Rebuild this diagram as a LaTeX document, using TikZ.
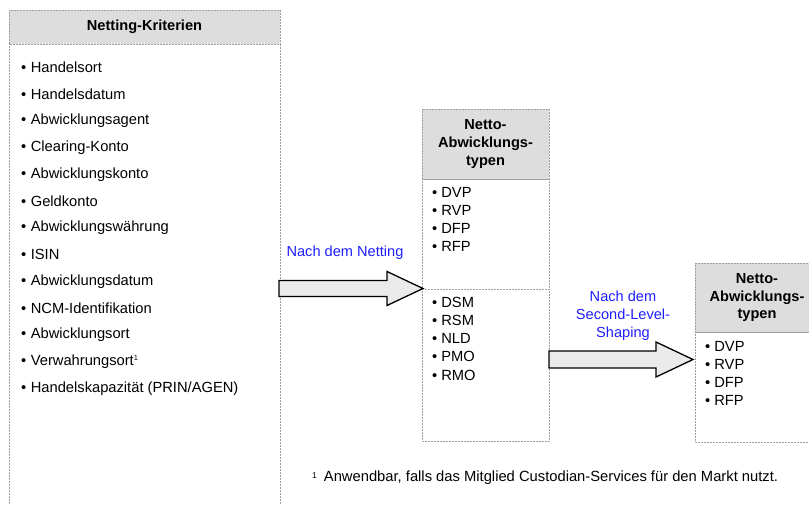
\documentclass[tikz,border=0pt]{standalone}
\usepackage{fontspec}
\setmainfont{Liberation Sans}
\definecolor{hdrgray}{RGB}{221,221,221}
\definecolor{edgegray}{RGB}{160,160,160}
\definecolor{arrowfill}{RGB}{234,234,234}
\definecolor{labelblue}{RGB}{30,30,255}
\tikzset{
  panel/.style={draw=edgegray, densely dotted, line width=0.5pt, fill=white},
  panelhead/.style={draw=edgegray, densely dotted, line width=0.5pt, fill=hdrgray},
  headtext/.style={font=\fontsize{14.6}{17.6}\selectfont\bfseries, align=center, inner sep=0pt},
  itemtext/.style={font=\fontsize{14.7}{16}\selectfont, anchor=west, inner sep=0pt},
  flowlabel/.style={font=\fontsize{14.6}{18}\selectfont, text=labelblue, align=center, inner sep=0pt},
  blockarrow/.style={draw=black, line width=1.3pt, fill=arrowfill, line join=miter},
}
\begin{document}
\begin{tikzpicture}[x=1pt,y=-1pt]
\useasboundingbox (0,0) rectangle (809,504);

% left panel: netting criteria
\draw[panel] (9,44) rectangle (280,520);
\draw[panelhead] (9,10) rectangle (280,44);
\node[headtext] (critHead) at (144.5,27) {Netting-Kriterien};
\foreach \t [count=\i] in {Handelsort, Handelsdatum, Abwicklungsagent, Clearing-Konto,
  Abwicklungskonto, Geldkonto, Abwicklungswährung, ISIN, Abwicklungsdatum,
  NCM-Identifikation, Abwicklungsort, Verwahrungsort\textsuperscript{\fontsize{7.5}{8}\selectfont 1},
  Handelskapazität (PRIN/AGEN)}
  \node[itemtext] (crit\i) at (21,{40.5+26.75*\i}) {•\hspace{4.5pt}\t};

% middle panel: net settlement types
\draw[panel] (422,179) rectangle (549,289);
\draw[panel] (422,289) rectangle (549,441);
\draw[panelhead] (422,109) rectangle (549,179);
\node[headtext] (midHead) at (485.5,144) {Netto-\\Abwicklungs-\\typen};
\foreach \t [count=\i] in {DVP, RVP, DFP, RFP}
  \node[itemtext] (midA\i) at (432,{174+18*\i}) {•\hspace{4pt}\t};
\foreach \t [count=\i] in {DSM, RSM, NLD, PMO, RMO}
  \node[itemtext] (midB\i) at (432,{284+18.2*\i}) {•\hspace{4pt}\t};

% right panel: net settlement types after shaping
\draw[panel] (695,332) rectangle (830,442);
\draw[panelhead] (695,263) rectangle (830,332);
\node[headtext] (rightHead) at (757,297.5) {Netto-\\Abwicklungs-\\typen};
\foreach \t [count=\i] in {DVP, RVP, DFP, RFP}
  \node[itemtext] (right\i) at (705,{329+17.8*\i}) {•\hspace{4pt}\t};

% block arrows
\coordinate (a1t) at (423,288.5);
\draw[blockarrow] (279,280.5) -- (387,280.5) -- (387,271.5) -- (a1t)
  -- (387,305.5) -- (387,296.5) -- (279,296.5) -- cycle;
\node[flowlabel] (lbl1) at (345,253) {Nach dem Netting};

\coordinate (a2t) at (693,359.5);
\draw[blockarrow] (549,351) -- (656,351) -- (656,342) -- (a2t)
  -- (656,377) -- (656,368) -- (549,368) -- cycle;
\node[flowlabel] (lbl2) at (623,316) {Nach dem\\Second-Level-\\Shaping};

% footnote
\node[anchor=west, inner sep=0pt, font=\fontsize{14.75}{16}\selectfont] (note) at (312,478)
  {\raisebox{0.45ex}{\fontsize{8.5}{9}\selectfont 1}\hspace{7pt}Anwendbar, falls das Mitglied Custodian-Services für den Markt nutzt.};
\end{tikzpicture}
\end{document}
